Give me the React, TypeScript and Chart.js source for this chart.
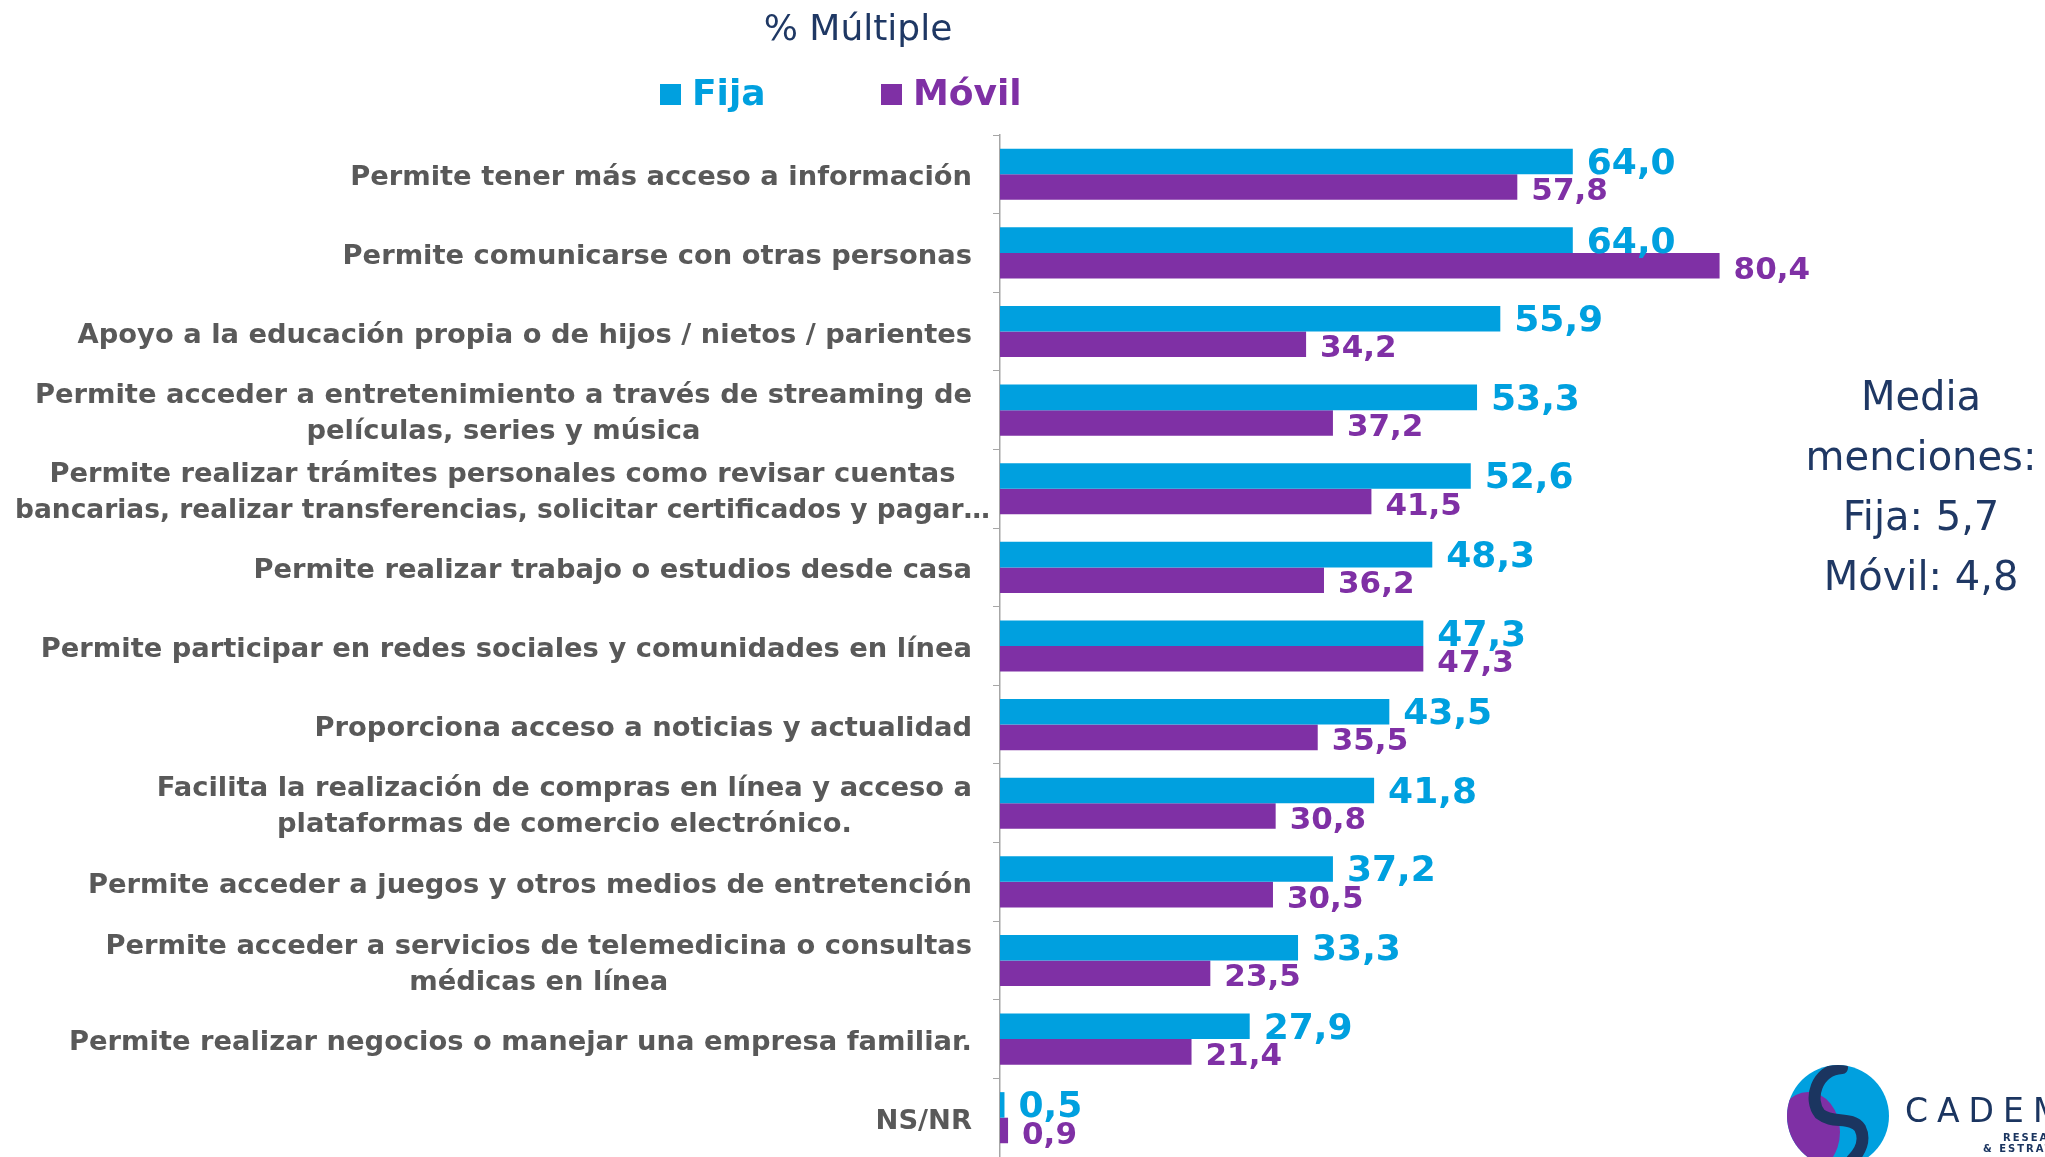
import React, { useEffect, useRef } from "react";
import { Chart, registerables } from "chart.js";

Chart.register(...registerables);

// ---------------- data ----------------
const categories: (string | string[])[] = [
  "Permite tener más acceso a información",
  "Permite comunicarse con otras personas",
  "Apoyo a la educación propia o de hijos / nietos / parientes",
  ["Permite acceder a entretenimiento a través de streaming de", "películas, series y música"],
  ["Permite realizar trámites personales como revisar cuentas", "bancarias, realizar transferencias, solicitar certificados y pagar…"],
  "Permite realizar trabajo o estudios desde casa",
  "Permite participar en redes sociales y comunidades en línea",
  "Proporciona acceso a noticias y actualidad",
  ["Facilita la realización de compras en línea y acceso a", "plataformas de comercio electrónico."],
  "Permite acceder a juegos y otros medios de entretención",
  ["Permite acceder a servicios de telemedicina o consultas", "médicas en línea"],
  "Permite realizar negocios o manejar una empresa familiar.",
  "NS/NR",
];

const fijaValues = [64.0, 64.0, 55.9, 53.3, 52.6, 48.3, 47.3, 43.5, 41.8, 37.2, 33.3, 27.9, 0.5];
const movilValues = [57.8, 80.4, 34.2, 37.2, 41.5, 36.2, 47.3, 35.5, 30.8, 30.5, 23.5, 21.4, 0.9];

const seriesNames = ["Fija", "Móvil"];
const titleText = "% Múltiple";
const summaryLines = ["Media", "menciones:", "Fija: 5,7", "Móvil: 4,8"];

// ---------------- styles ----------------
const FIJA_COLOR = "#00A0DF";
const MOVIL_COLOR = "#7F30A5";
const NAVY = "#1F3864";
const LABEL_GRAY = "#595959";
const FONT = '"DejaVu Sans", "Noto Sans", sans-serif';

const fmt = (v: number) => v.toFixed(1).replace(".", ",");

const labelsPlugin = {
  id: "customLabels",
  afterDraw(chart: any) {
    const ctx: CanvasRenderingContext2D = chart.ctx;
    const yScale = chart.scales.y;
    ctx.save();
    // fit category label font to reference width
    ctx.font = `bold 100px ${FONT}`;
    const refW = ctx.measureText("Permite tener más acceso a información").width;
    const size = Math.min(30, (100 * 622) / refW);
    ctx.font = `bold ${size}px ${FONT}`;
    ctx.fillStyle = LABEL_GRAY;
    ctx.textAlign = "center";
    ctx.textBaseline = "middle";
    const right = 972;
    const leftMin = 15;
    const maxW = 975;
    const lineH = 36;
    (chart.data.labels as (string | string[])[]).forEach((lab, i) => {
      const lines = Array.isArray(lab) ? lab : [lab];
      const w = Math.min(maxW, Math.max(...lines.map((l) => ctx.measureText(l).width)));
      let cx = right - w / 2;
      cx = Math.max(cx, leftMin + w / 2);
      const cy = yScale.getPixelForValue(i) + 4;
      lines.forEach((l, j) => {
        ctx.fillText(l, cx, cy + (j - (lines.length - 1) / 2) * lineH, maxW);
      });
    });

    // value labels
    chart.data.datasets.forEach((ds: any, di: number) => {
      const meta = chart.getDatasetMeta(di);
      ctx.font = `bold ${di === 0 ? 36 : 31}px ${FONT}`;
      ctx.fillStyle = ds.backgroundColor;
      ctx.textAlign = "left";
      ctx.textBaseline = "middle";
      meta.data.forEach((bar: any, i: number) => {
        const v = ds.data[i] as number;
        ctx.fillText(fmt(v), bar.x + 14, bar.y + (di === 0 ? 3 : 5));
      });
    });
    ctx.restore();
  },
};

function BarChart() {
  const ref = useRef<HTMLCanvasElement | null>(null);
  useEffect(() => {
    if (!ref.current) return;
    const chart = new Chart(ref.current, {
      type: "bar",
      data: {
        labels: categories as any,
        datasets: [
          {
            label: seriesNames[0],
            data: fijaValues,
            backgroundColor: FIJA_COLOR,
            categoryPercentage: 0.65,
            barPercentage: 1,
            borderWidth: 0,
          },
          {
            label: seriesNames[1],
            data: movilValues,
            backgroundColor: MOVIL_COLOR,
            categoryPercentage: 0.65,
            barPercentage: 1,
            borderWidth: 0,
          },
        ],
      },
      options: {
        indexAxis: "y",
        responsive: false,
        animation: false,
        layout: { padding: { top: 135, right: 150, bottom: 0, left: 0 } },
        plugins: {
          legend: { display: false },
          title: { display: false },
          tooltip: { enabled: false },
        },
        scales: {
          x: { display: false, min: 0, max: 100 },
          y: {
            grid: {
              display: true,
              drawOnChartArea: false,
              drawTicks: true,
              tickLength: 7,
              color: "#A6A6A6",
              offset: true,
            },
            border: { display: true, color: "#A6A6A6", width: 1.5 },
            ticks: { display: false },
            afterFit: (s: any) => {
              s.width = 1000;
            },
          },
        },
      } as any,
      plugins: [labelsPlugin],
    });
    return () => chart.destroy();
  }, []);
  return <canvas ref={ref} width={2045} height={1157} style={{ display: "block", position: "absolute", left: 0, top: 0 }} />;
}

function Logo() {
  return (
    <svg width={2045} height={1157} style={{ position: "absolute", left: 0, top: 0, pointerEvents: "none" }}>
      <defs>
        <clipPath id="logoClip">
          <circle cx={1838} cy={1116} r={51} />
        </clipPath>
      </defs>
      <circle cx={1838} cy={1116} r={51} fill="#00A0DF" />
      <g clipPath="url(#logoClip)">
        <ellipse cx={1808} cy={1132} rx={32} ry={40} fill="#7F30A5" />
        <path
          d="M 1842 1068 C 1816 1070, 1808 1100, 1820 1114 C 1832 1124, 1852 1116, 1860 1128 C 1866 1140, 1860 1152, 1852 1160"
          stroke="#1B3560"
          strokeWidth={12}
          fill="none"
          strokeLinecap="round"
        />
      </g>
      <text x={1905} y={1122} fontFamily={FONT} fontSize={33} fill="#1B3560" letterSpacing={9}>
        CADEM
      </text>
      <text x={2003} y={1141} fontFamily={FONT} fontSize={10} fontWeight="bold" fill="#1B3560" letterSpacing={2}>
        RESEARCH
      </text>
      <text x={1983} y={1152} fontFamily={FONT} fontSize={10} fontWeight="bold" fill="#1B3560" letterSpacing={2}>
        &amp; ESTRATEGIA
      </text>
    </svg>
  );
}

export default function App() {
  const abs: React.CSSProperties = { position: "absolute", whiteSpace: "nowrap", lineHeight: 1 };
  return (
    <div
      style={{
        position: "fixed",
        left: 0,
        top: 0,
        width: 2045,
        height: 1157,
        overflow: "hidden",
        background: "#ffffff",
        fontFamily: FONT,
      }}
    >
      <BarChart />
      {/* title */}
      <div style={{ ...abs, left: 558, top: 10, width: 600, textAlign: "center", fontSize: 36, color: NAVY }}>
        {titleText}
      </div>
      {/* legend */}
      <div style={{ ...abs, left: 660, top: 84, width: 21, height: 21, background: FIJA_COLOR }} />
      <div style={{ ...abs, left: 692, top: 75, fontSize: 36, fontWeight: "bold", color: FIJA_COLOR }}>
        {seriesNames[0]}
      </div>
      <div style={{ ...abs, left: 881, top: 84, width: 21, height: 21, background: MOVIL_COLOR }} />
      <div style={{ ...abs, left: 913, top: 75, fontSize: 36, fontWeight: "bold", color: MOVIL_COLOR }}>
        {seriesNames[1]}
      </div>
      {/* summary */}
      <div
        style={{
          position: "absolute",
          left: 1771,
          top: 366,
          width: 300,
          textAlign: "center",
          fontSize: 40,
          lineHeight: "60px",
          color: NAVY,
          whiteSpace: "nowrap",
        }}
      >
        {summaryLines.map((l, i) => (
          <div key={i}>{l}</div>
        ))}
      </div>
      <Logo />
    </div>
  );
}
